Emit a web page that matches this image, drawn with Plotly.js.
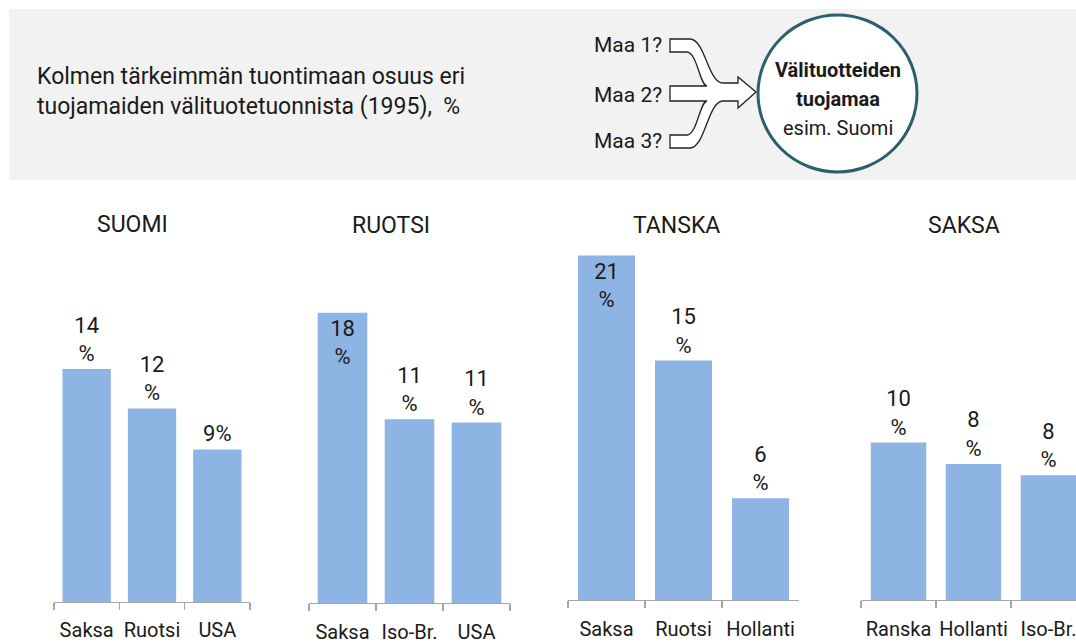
<!DOCTYPE html>
<html>
<head>
<meta charset="utf-8">
<script src="https://cdn.plot.ly/plotly-3.0.1.min.js"></script>
<style>html,body{margin:0;padding:0;background:#fff;}#chart{width:1076px;height:644px;}</style>
</head>
<body>
<div id="chart"></div>
<script>
// ---- Data ----
const panelTitles = ['SUOMI', 'RUOTSI', 'TANSKA', 'SAKSA'];
const suomiCountries = ['Saksa', 'Ruotsi', 'USA'];
const suomiShares = [14.2, 11.8, 9.3];
const ruotsiCountries = ['Saksa', 'Iso-Br.', 'USA'];
const ruotsiShares = [17.7, 11.2, 11.0];
const tanskaCountries = ['Saksa', 'Ruotsi', 'Hollanti'];
const tanskaShares = [21.0, 14.6, 6.2];
const saksaCountries = ['Ranska', 'Hollanti', 'Iso-Br.'];
const saksaShares = [9.6, 8.3, 7.6];
const headerLines = ['Kolmen tärkeimmän tuontimaan osuus eri', 'tuojamaiden välituotetuonnista (1995), &nbsp;%'];
const sourceLabels = ['Maa 1?', 'Maa 2?', 'Maa 3?'];
const circleLines = ['Välituotteiden', 'tuojamaa', 'esim. Suomi'];

// ---- Geometry helpers (figure pixels -> paper fractions) ----
const W = 1076, H = 644;
const FONT = 'Roboto, "Liberation Sans", sans-serif';
const px = x => x / W;
const py = y => 1 - y / H;
const BAR = '#8EB4E3';
const TXT = '#1a1a1a';
const SCALE = 16.4; // px per percentage unit
const YMAX = 22;

const panels = [
  {names: suomiCountries, vals: suomiShares, x0: 54, x1: 250, base: 602, xr: [-0.5, 2.5], so: 10,
   pos: ['outside', 'outside', 'outside'], tpl: ['%{y:.0f}<br>%', '%{y:.0f}<br>%', '%{y:.0f}%'], tx: 132, ty: 224},
  {names: ruotsiCountries, vals: ruotsiShares, x0: 309, x1: 510, base: 603, xr: [-0.5, 2.5], so: 11,
   pos: ['inside', 'outside', 'outside'], tpl: ['%{y:.0f}<br>%', '%{y:.0f}<br>%', '%{y:.0f}<br>%'], tx: 391, ty: 226},
  {names: tanskaCountries, vals: tanskaShares, x0: 568, x1: 799, base: 600, xr: [-0.5, 2.5], so: 11,
   pos: ['inside', 'outside', 'outside'], tpl: ['%{y:.0f}<br>%', '%{y:.0f}<br>%', '%{y:.0f}<br>%'], tx: 676, ty: 226},
  {names: saksaCountries, vals: saksaShares, x0: 861, x1: 1076, base: 600, xr: [-0.5, 2.367], so: 11,
   pos: ['outside', 'outside', 'outside'], tpl: ['%{y:.0f}<br>%', '%{y:.0f}<br>%', '%{y:.0f}<br>%'], tx: 964, ty: 226}
];

const data = [];
const layout = {
  width: W, height: H,
  margin: {l: 0, r: 0, t: 0, b: 0},
  paper_bgcolor: '#ffffff', plot_bgcolor: 'rgba(0,0,0,0)',
  showlegend: false,
  bargap: 0.26,
  font: {family: FONT, size: 22, color: TXT},
  shapes: [], annotations: []
};

panels.forEach((p, i) => {
  const n = i === 0 ? '' : String(i + 1);
  data.push({
    type: 'bar', x: p.names, y: p.vals,
    xaxis: 'x' + n, yaxis: 'y' + n,
    marker: {color: BAR, line: {width: 0}},
    texttemplate: p.tpl, textposition: p.pos, textangle: 0,
    insidetextanchor: 'end', constraintext: 'none', cliponaxis: false,
    textfont: {family: FONT, size: 22, color: TXT},
    insidetextfont: {family: FONT, size: 22, color: TXT},
    outsidetextfont: {family: FONT, size: 22, color: TXT},
    hoverinfo: 'skip'
  });
  layout['xaxis' + n] = {
    domain: [px(p.x0), px(p.x1)], anchor: 'y' + n, type: 'category', range: p.xr,
    showline: true, linecolor: '#A6A6A6', linewidth: 1.2,
    ticks: 'outside', tickson: 'boundaries', ticklen: 7, tickcolor: '#A6A6A6', tickwidth: 1.2,
    showgrid: false, zeroline: false, fixedrange: true, tickangle: 0, automargin: false,
    tickfont: {family: FONT, size: 20, color: TXT}, ticklabelstandoff: p.so
  };
  layout['yaxis' + n] = {
    domain: [py(p.base), py(p.base - YMAX * SCALE)], anchor: 'x' + n, range: [0, YMAX],
    visible: false, showgrid: false, zeroline: false, fixedrange: true
  };
  layout.annotations.push({
    text: panelTitles[i], xref: 'paper', yref: 'paper', x: px(p.tx), y: py(p.ty),
    xanchor: 'center', yanchor: 'middle', showarrow: false,
    font: {family: FONT, size: 23, color: TXT}
  });
});

// Header box
layout.shapes.push({type: 'rect', xref: 'paper', yref: 'paper', x0: px(9), x1: px(1076), y0: py(180), y1: py(9),
  fillcolor: '#F2F2F2', line: {width: 0}, layer: 'below'});
// Arrow diagram path (pixel coordinates converted to paper)
const arrowPts = [
  ['M', 670, 39], ['L', 690, 39], ['C', 705, 39, 708, 83, 723, 83], ['L', 738, 83], ['L', 738, 77],
  ['L', 756, 92], ['L', 738, 108], ['L', 738, 101], ['L', 723, 101], ['C', 708, 101, 705, 148, 690, 148],
  ['L', 670, 148], ['L', 670, 135], ['L', 687, 135], ['C', 697, 135, 700, 101, 707, 101], ['L', 670, 101],
  ['L', 670, 86], ['L', 707, 86], ['C', 700, 86, 697, 52, 687, 52], ['L', 670, 52]
];
const pathStr = arrowPts.map(c => {
  const nums = [];
  for (let k = 1; k < c.length; k += 2) nums.push(px(c[k]).toFixed(5) + ',' + py(c[k + 1]).toFixed(5));
  return c[0] + nums.join(' ');
}).join(' ') + ' Z';
layout.shapes.push({type: 'path', xref: 'paper', yref: 'paper', path: pathStr,
  fillcolor: '#ffffff', line: {color: '#222222', width: 1.3}});
// Circle
layout.shapes.push({type: 'circle', xref: 'paper', yref: 'paper', x0: px(758), x1: px(917), y0: py(172), y1: py(15),
  fillcolor: '#ffffff', line: {color: '#2B5F6B', width: 3}});

// Header texts
layout.annotations.push({
  text: headerLines.join('<br>'), xref: 'paper', yref: 'paper', x: px(35), y: py(92),
  xanchor: 'left', yanchor: 'middle', align: 'left', showarrow: false,
  font: {family: FONT, size: 23, color: TXT}
});
[45, 95, 141].forEach((yy, k) => layout.annotations.push({
  text: sourceLabels[k], xref: 'paper', yref: 'paper', x: px(664), y: py(yy),
  xanchor: 'right', yanchor: 'middle', showarrow: false,
  font: {family: FONT, size: 21, color: TXT}
}));
[70, 99, 128].forEach((yy, k) => layout.annotations.push({
  text: k < 2 ? '<b>' + circleLines[k] + '</b>' : circleLines[k], xref: 'paper', yref: 'paper', x: px(838), y: py(yy),
  xanchor: 'center', yanchor: 'middle', showarrow: false,
  font: {family: FONT, size: 20, color: TXT}
}));

Plotly.newPlot('chart', data, layout, {displayModeBar: false, staticPlot: true});
</script>
</body>
</html>
